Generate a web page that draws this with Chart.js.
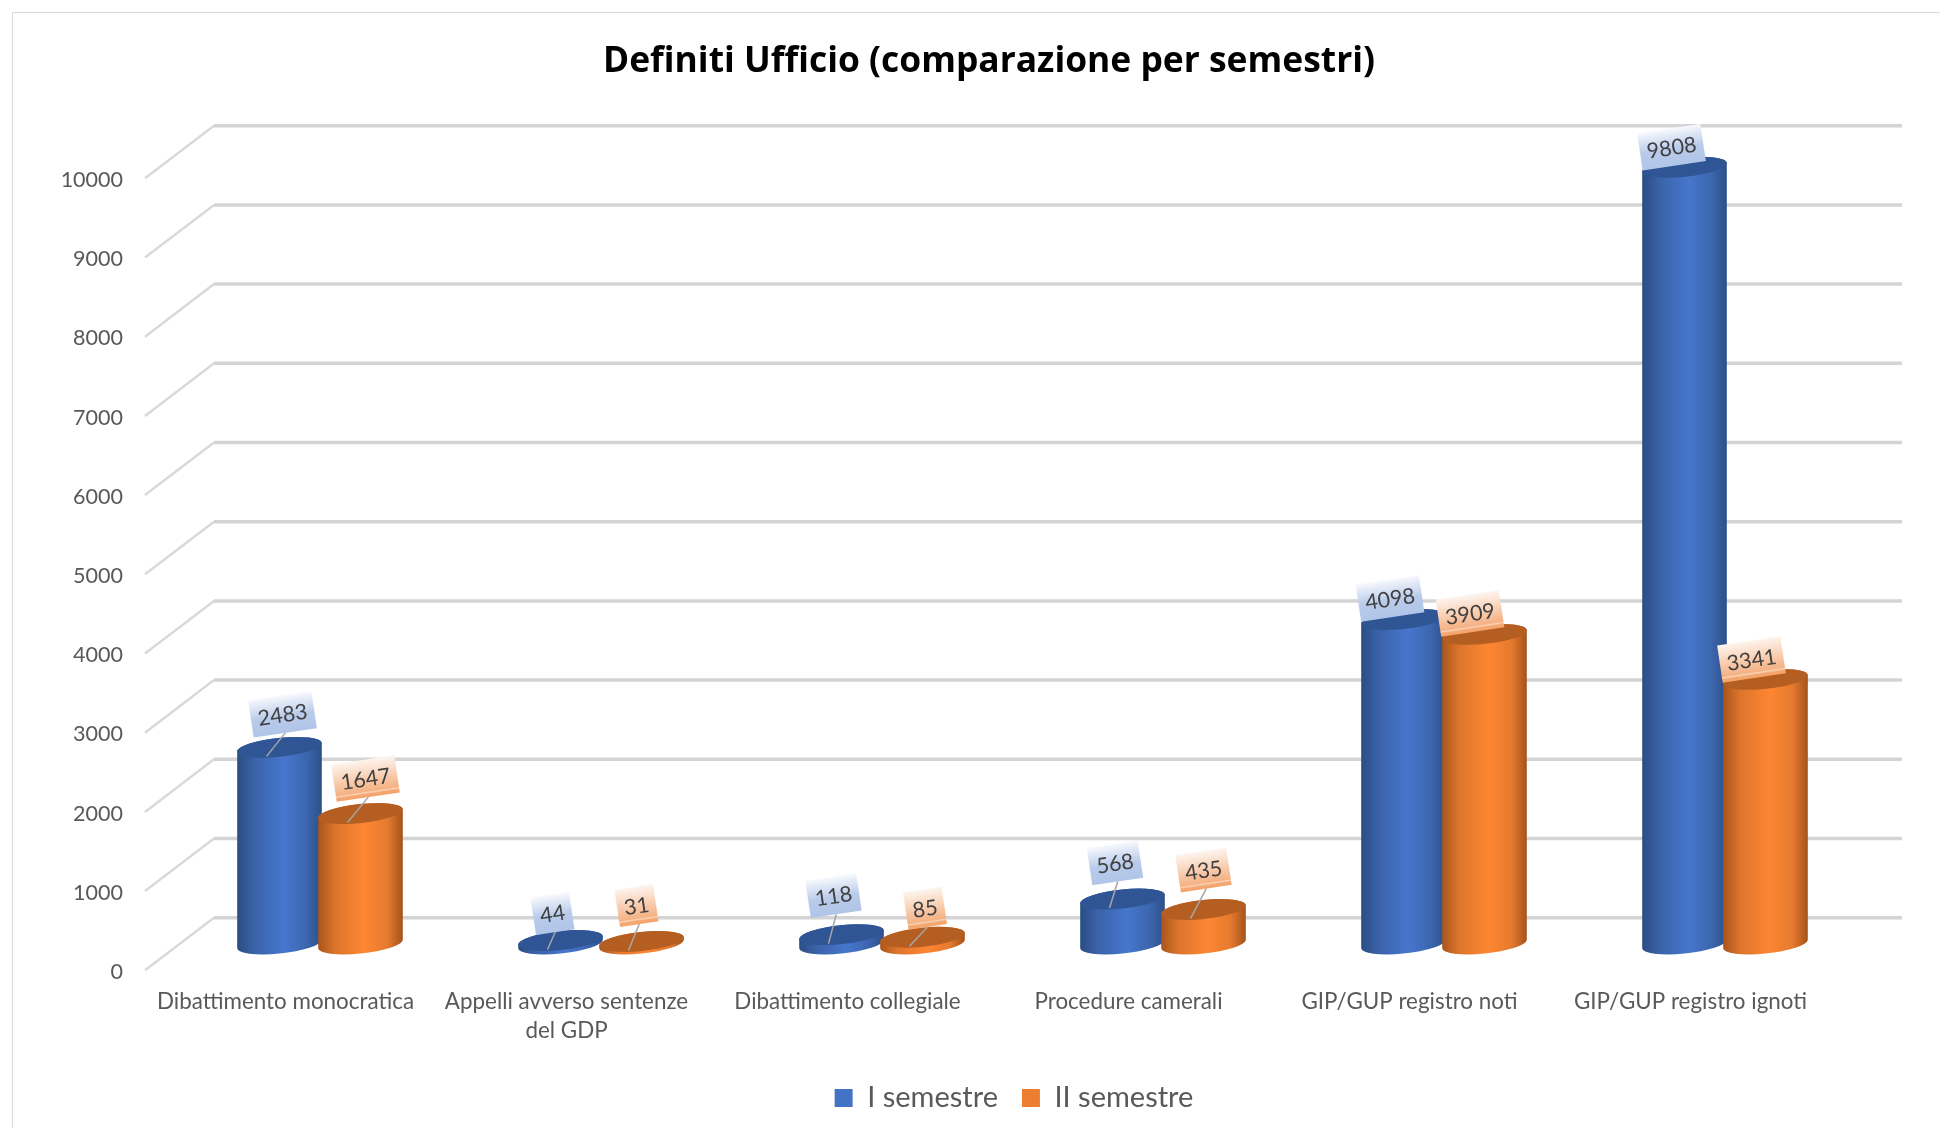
<!DOCTYPE html>
<html>
<head>
<meta charset="utf-8">
<title>Definiti Ufficio</title>
<script src="https://cdn.jsdelivr.net/npm/chart.js@4/dist/chart.umd.js"></script>
<style>
  html, body { margin: 0; padding: 0; background: #fff; overflow: hidden; }
  #wrap { position: relative; width: 1940px; height: 1128px; overflow: hidden; }
  #frame { position: absolute; left: 12px; top: 12px; width: 2000px; height: 2000px; border: 1.5px solid #d9d9d9; }
  canvas { position: absolute; left: 0; top: 0; }
</style>
</head>
<body>
<div id="wrap">
  <div id="frame"></div>
  <canvas id="chart" width="1940" height="1128"></canvas>
</div>
<script>
// data
const categories = ['Dibattimento monocratica', ['Appelli avverso sentenze', 'del GDP'], 'Dibattimento collegiale', 'Procedure camerali', 'GIP/GUP registro noti', 'GIP/GUP registro ignoti'];
const semestre1 = [2483, 44, 118, 568, 4098, 9808];
const semestre2 = [1647, 31, 85, 435, 3909, 3341];

// hand placed flags, offset from the top of each bar
const flagNudge1 = [[3, -33], [-8, -27], [-8, -39], [-7.5, -36], [-13.5, -21], [-13, -20]];
const flagNudge2 = [[5, -35], [-5, -36], [2.5, -29], [0, -39.5], [-14.5, -21], [-14, -20]];

const DEPTH_X = 34.5;   // half of the floor depth
const DEPTH_Y = 26.3;
const TILT = -6 * Math.PI / 180;

const looks = [
  { side: ['#2b4d82', '#3a62a8', '#4676cd', '#3c66ae', '#2c4f88'], cap: '#2f5595', flag: [[0, '#f7f9fd'], [0.55, '#b9cbea'], [1, '#b0c5e8']] },
  { side: ['#a8551c', '#dd752c', '#fe8633', '#e57a2e', '#a4531b'], cap: '#b45e22', flag: [[0, '#fdf5ef'], [0.84, '#f5b183'], [0.87, '#fad3b8'], [0.92, '#f4a771'], [1, '#f4a46b']] }
];
const flagNudges = [flagNudge1, flagNudge2];

function drawFloorAndGrid(chart) {
  const { ctx, chartArea, scales } = chart;
  const frontX = chartArea.left - DEPTH_X, backX = chartArea.left + DEPTH_X;
  const endX = chartArea.right + DEPTH_X + 2;
  scales.y.ticks.forEach(t => {
    const y = scales.y.getPixelForValue(t.value);
    ctx.beginPath();
    ctx.moveTo(frontX, y + DEPTH_Y);
    ctx.lineTo(backX, y - DEPTH_Y);
    ctx.strokeStyle = '#d9d9d9';
    ctx.lineWidth = 2.5;
    ctx.stroke();
    ctx.beginPath();
    ctx.moveTo(backX, y - DEPTH_Y);
    ctx.lineTo(endX, y - DEPTH_Y);
    ctx.strokeStyle = '#d4d4d4';
    ctx.lineWidth = 3.5;
    ctx.stroke();
  });
}

function drawCylinder(ctx, bar, look) {
  const a = bar.width / 2, b = 9.5;
  const sin = Math.sin(TILT), cos = Math.cos(TILT);
  const t0 = Math.atan2(-b * sin, a * cos);
  const halfW = Math.sqrt(a * a * cos * cos + b * b * sin * sin);
  const grad = ctx.createLinearGradient(bar.x - halfW, 0, bar.x + halfW, 0);
  [0, 0.2, 0.55, 0.82, 1].forEach((s, i) => grad.addColorStop(s, look.side[i]));
  ctx.beginPath();
  ctx.ellipse(bar.x, bar.base, a, b, TILT, t0, t0 + Math.PI);
  ctx.ellipse(bar.x, bar.y, a, b, TILT, t0 + Math.PI, t0 + 2 * Math.PI);
  ctx.closePath();
  ctx.fillStyle = grad;
  ctx.fill();
  ctx.beginPath();
  ctx.ellipse(bar.x, bar.y, a, b, TILT, 0, 2 * Math.PI);
  ctx.fillStyle = look.cap;
  ctx.fill();
}

function drawFlag(ctx, bar, text, nudge, look) {
  const cx = bar.x + nudge[0], cy = bar.y + nudge[1];
  const angle = -8.5 * Math.PI / 180, h = 37.5;
  ctx.font = '21.5px Lato';
  const w = ctx.measureText(text).width + 14;

  // leader line only where the flag stands clear of the cap
  if (nudge[1] < -25) {
    ctx.beginPath();
    ctx.moveTo(cx - Math.sin(angle) * h / 2, cy + Math.cos(angle) * h / 2);
    ctx.lineTo(bar.x - 13, bar.y + 9);
    ctx.strokeStyle = '#a6a6a6';
    ctx.lineWidth = 1.5;
    ctx.stroke();
  }

  ctx.save();
  ctx.translate(cx, cy);
  ctx.rotate(angle);
  const grad = ctx.createLinearGradient(0, -h / 2, 0, h / 2);
  look.flag.forEach(s => grad.addColorStop(s[0], s[1]));
  ctx.fillStyle = grad;
  ctx.fillRect(-w / 2, -h / 2, w, h);
  ctx.fillStyle = '#404040';
  ctx.textAlign = 'center';
  ctx.textBaseline = 'middle';
  ctx.fillText(text, 0, 1);
  ctx.restore();
}

const cylinders = {
  id: 'cylinders',
  afterLayout(chart) {
    // the original title and legend sit off centre
    const t = chart.titleBlock, l = chart.legend;
    const tw = t.right - t.left;
    t.left = 989 - tw / 2; t.right = 989 + tw / 2;
    const lw = l.right - l.left, lh = l.bottom - l.top;
    l.left = 1014 - lw / 2; l.right = 1014 + lw / 2;
    l.top = 1091 - lh / 2; l.bottom = 1091 + lh / 2;
  },
  beforeDatasetsDraw(chart) {
    const ctx = chart.ctx;
    drawFloorAndGrid(chart);
    ctx.save();
    chart.data.datasets.forEach((ds, d) => {
      chart.getDatasetMeta(d).data.forEach(bar => drawCylinder(ctx, bar, looks[d]));
    });
    chart.data.datasets.forEach((ds, d) => {
      chart.getDatasetMeta(d).data.forEach((bar, i) => drawFlag(ctx, bar, String(ds.data[i]), flagNudges[d][i], looks[d]));
    });
    ctx.restore();
    return false; // the cylinders replace the flat bars
  }
};

new Chart(document.getElementById('chart').getContext('2d'), {
  type: 'bar',
  data: {
    labels: categories,
    datasets: [
      { label: 'I semestre', data: semestre1, backgroundColor: '#4472c4' },
      { label: 'II semestre', data: semestre2, backgroundColor: '#ed7d31' }
    ]
  },
  plugins: [cylinders],
  options: {
    responsive: false,
    animation: false,
    layout: { padding: { left: 0, right: 74.5, top: 0, bottom: 0 } },
    categoryPercentage: 0.5765,
    barPercentage: 1.05,
    plugins: {
      tooltip: { enabled: false },
      title: {
        display: true,
        text: 'Definiti Ufficio (comparazione per semestri)',
        color: '#000',
        font: { family: 'Open Sans', size: 35.4, weight: 'bold', lineHeight: 1.2 },
        padding: { top: 40.5, bottom: 69.02 }
      },
      legend: {
        position: 'bottom',
        labels: {
          color: '#595959',
          font: { family: 'Lato', size: 29 },
          boxWidth: 18,
          boxHeight: 18,
          padding: 24
        }
      }
    },
    scales: {
      x: {
        grid: { display: false, drawTicks: false },
        border: { display: false },
        afterFit(scale) { scale.height = 184 - scale.chart.legend.height; },
        ticks: {
          color: '#595959',
          font: { family: 'Lato', size: 22.4, lineHeight: 1.3 },
          padding: 43.5,
          labelOffset: -DEPTH_X,
          maxRotation: 0,
          minRotation: 0,
          autoSkip: false
        }
      },
      y: {
        min: 0,
        max: 10000,
        grid: { display: false, drawTicks: false },
        border: { display: false },
        afterFit(scale) { scale.width = 179.5; },
        ticks: {
          stepSize: 1000,
          color: '#595959',
          font: { family: 'Lato', size: 21.5 },
          padding: 56.5,
          labelOffset: 28,
          callback: v => String(v)
        }
      }
    }
  }
});
</script>
</body>
</html>
